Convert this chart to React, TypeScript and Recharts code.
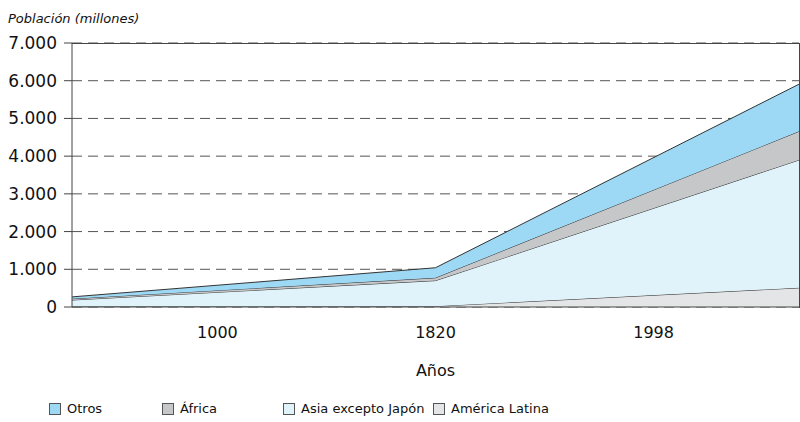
import React from 'react';
import { AreaChart, Area, XAxis, YAxis, CartesianGrid } from 'recharts';

// years, drawn at the data points (left edge, middle, right edge)
const years = ['1000', '1820', '1998'];
const yearLabelPos = [0.4, 1, 1.6];

const americaLatina = [11, 21, 508];
const asiaExJapon = [175, 679, 3390];
const africa = [33, 74, 760];
const otros = [49, 267, 1250];

const yTicks = [0, 1000, 2000, 3000, 4000, 5000, 6000, 7000];

const series = [
  { key: 'al', name: 'América Latina', color: '#e4e5e6' },
  { key: 'asia', name: 'Asia excepto Japón', color: '#e0f2fa' },
  { key: 'africa', name: 'África', color: '#c6c7c9' },
  { key: 'otros', name: 'Otros', color: '#9dd9f5' },
];

const legendOrder = ['otros', 'africa', 'asia', 'al'];
const legendWidths = [113, 121, 150, 200];

const data = years.map((y, i) => ({
  x: i,
  year: y,
  al: americaLatina[i],
  asia: asiaExJapon[i],
  africa: africa[i],
  otros: otros[i],
}));

const font = '"DejaVu Sans", sans-serif';
const fmt = (v: number) => String(v).replace(/\B(?=(\d{3})+(?!\d))/g, '.');

const M = { top: 43, right: 1, left: 0, bottom: 39 };
const Y_W = 72;
const X_H = 6 + 70;

const App = () => {
  return (
    <div style={{ position: 'absolute', left: 0, top: 0, width: 800, height: 422, fontFamily: font }}>
      <div style={{ position: 'absolute', left: 8, top: 11, fontSize: 13, fontStyle: 'italic', color: '#111' }}>
        Población (millones)
      </div>
      <AreaChart width={800} height={422} data={data} margin={M}>
        <CartesianGrid vertical={false} strokeDasharray="10 6" stroke="#555" />
        <XAxis
          xAxisId={0}
          type="number"
          dataKey="x"
          domain={[0, 2]}
          ticks={[0, 1, 2]}
          tick={false}
          tickSize={6}
          height={6}
          stroke="#444"
        />
        <XAxis
          xAxisId="lbl"
          type="number"
          dataKey="x"
          domain={[0, 2]}
          allowDataOverflow
          ticks={yearLabelPos}
          tickFormatter={(v: number) => years[yearLabelPos.indexOf(v)] ?? ''}
          axisLine={false}
          tickLine={false}
          tickSize={8}
          tickMargin={6}
          height={70}
          tick={{ fontSize: 16, fill: '#111', fontFamily: font }}
          label={{ value: 'Años', position: 'insideBottom', offset: 7, fontSize: 16, fill: '#111', fontFamily: font }}
        />
        <YAxis
          domain={[0, 7000]}
          ticks={yTicks}
          width={Y_W}
          tickSize={8}
          tickMargin={7}
          tickFormatter={fmt}
          stroke="#444"
          tick={{ fontSize: 17, fill: '#111', fontFamily: font }}
          interval={0}
        />
        {series.map((s) => (
          <Area
            key={s.key}
            type="linear"
            dataKey={s.key}
            name={s.name}
            stackId="1"
            stroke="#333"
            strokeWidth={1}
            fill={s.color}
            fillOpacity={1}
            dot={false}
            activeDot={false}
            isAnimationActive={false}
          />
        ))}
      </AreaChart>
      {/* frame: top and right edges of the plot */}
      <div
        style={{
          position: 'absolute',
          left: M.left + Y_W,
          top: M.top - 0.5,
          width: 800 - M.left - Y_W - M.right - 0.5,
          height: 422 - M.top - M.bottom - X_H,
          borderTop: '1px solid #444',
          borderRight: '1px solid #444',
          pointerEvents: 'none',
        }}
      />
      <div style={{ position: 'absolute', left: 49, top: 401, display: 'flex', fontSize: 13, color: '#111' }}>
        {legendOrder.map((k, i) => {
          const s = series.find((d) => d.key === k)!;
          return (
            <div key={k} style={{ width: legendWidths[i], display: 'flex', alignItems: 'center' }}>
              <span
                style={{
                  display: 'inline-block',
                  width: 10,
                  height: 10,
                  background: s.color,
                  border: '1px solid #555',
                  marginRight: 6,
                }}
              />
              <span>{s.name}</span>
            </div>
          );
        })}
      </div>
    </div>
  );
};

export default App;
